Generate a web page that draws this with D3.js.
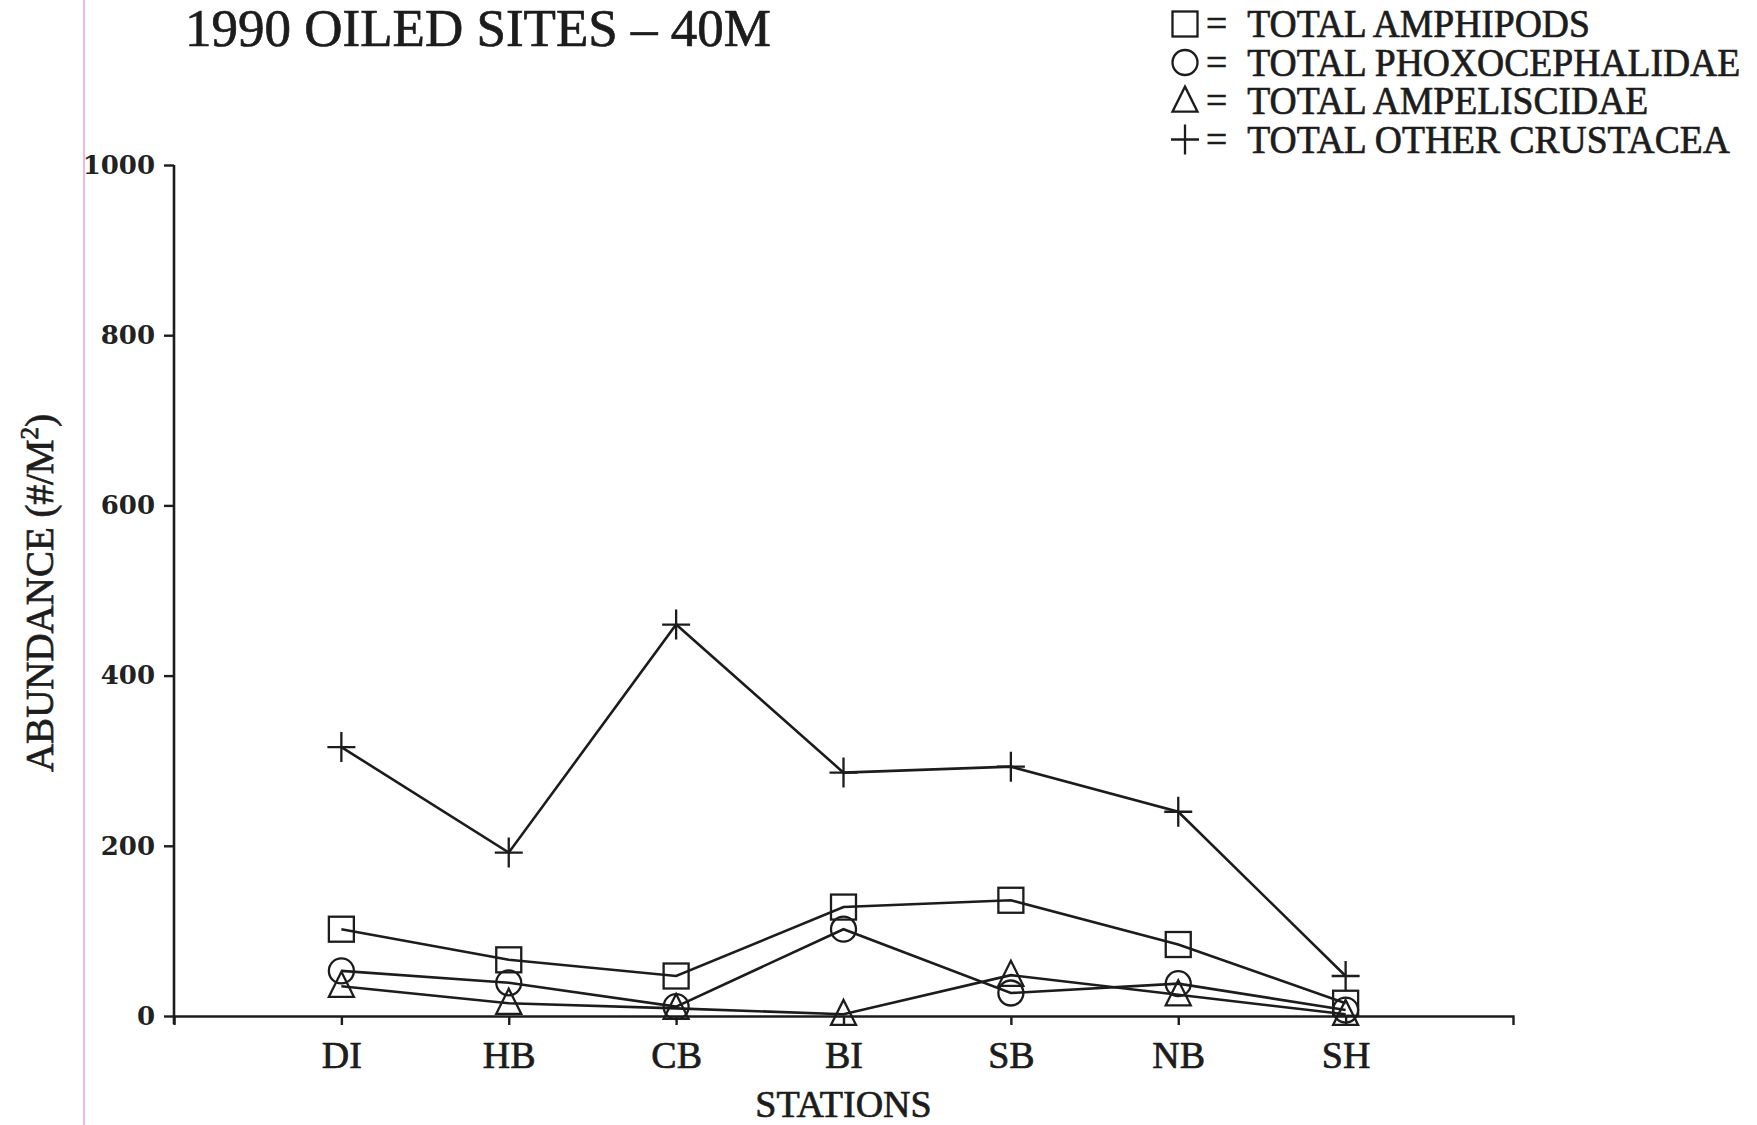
<!DOCTYPE html>
<html lang="en">
<head>
<meta charset="UTF-8">
<title>1990 Oiled Sites - 40M</title>
<style>
  body { margin: 0; background: #fff; }
  svg { display: block; }
  .serif { font-family: "Liberation Serif", "DejaVu Serif", serif; fill: #1c1c1c; stroke: #1c1c1c; stroke-width: 0.7; }
  .axis path, .axis line { stroke: #1c1c1c; stroke-width: 2.4; }
  .yaxis text { font-family: "DejaVu Serif", serif; font-weight: bold; font-size: 26px; fill: #222; }
  .xaxis text { font-family: "Liberation Serif", serif; font-size: 38px; fill: #1c1c1c; stroke: #1c1c1c; stroke-width: 0.7; }
</style>
</head>
<body>
<script src="https://d3js.org/d3.v7.min.js"></script>
<script>
// stations along the x axis
const stations = ["DI", "HB", "CB", "BI", "SB", "NB", "SH"];

// abundance (#/m2)
const amphipods       = [102, 66, 47, 128, 136, 84, 15];
const phoxocephalidae = [53, 39, 11, 102, 27, 38, 7];
const ampeliscidae    = [35, 15, 9, 2, 48, 25, 2];
const otherCrustacea  = [316, 192, 460, 286, 293, 240, 47];

const yTicks = [0, 200, 400, 600, 800, 1000];
const legendLabels = ["TOTAL AMPHIPODS", "TOTAL PHOXOCEPHALIDAE", "TOTAL AMPELISCIDAE", "TOTAL OTHER CRUSTACEA"];
const markers = ["square", "circle", "triangle", "plus"];

const series = [amphipods, phoxocephalidae, ampeliscidae, otherCrustacea];

const width = 1757, height = 1125;

const svg = d3.select("body").append("svg")
    .attr("width", width)
    .attr("height", height);

// scanner streak on the left edge of the page
svg.append("line")
    .attr("x1", 84).attr("x2", 84)
    .attr("y1", 0).attr("y2", height)
    .attr("stroke", "#e6a9e6")
    .attr("stroke-width", 1.6);

const x = d3.scaleLinear().domain([0, stations.length + 1]).range([174, 1513]);
const y = d3.scaleLinear().domain([0, 1000]).range([1016, 165]);

// y axis
const yAxis = svg.append("g")
    .attr("class", "axis yaxis")
    .attr("transform", "translate(174,0)")
    .call(d3.axisLeft(y).tickValues(yTicks).tickSize(10).tickSizeOuter(0).tickPadding(9).tickFormat(d3.format("d")));
yAxis.select(".domain").remove();
svg.append("line")
    .attr("x1", x(0)).attr("x2", x(0))
    .attr("y1", y(1000)).attr("y2", y(0) + 8)
    .attr("stroke", "#1c1c1c").attr("stroke-width", 2.6);

// x axis
svg.append("g")
    .attr("class", "axis xaxis")
    .attr("transform", `translate(0,${y(0)})`)
    .call(d3.axisBottom(x)
        .tickValues(d3.range(1, stations.length + 1))
        .tickSize(9).tickSizeOuter(9).tickPadding(16)
        .tickFormat(i => stations[i - 1]));

// title
svg.append("text")
    .attr("class", "serif")
    .attr("x", 185).attr("y", 46)
    .attr("font-size", 53)
    .attr("stroke-width", 0.9)
    .text("1990 OILED SITES \u2013 40M");

// axis titles
svg.append("text")
    .attr("class", "serif")
    .attr("text-anchor", "middle")
    .attr("transform", "translate(53,593) rotate(-90)")
    .attr("font-size", 39)
    .call(t => {
        t.append("tspan").text("ABUNDANCE (#/M");
        t.append("tspan").attr("font-size", 25).attr("dy", -15).text("2");
        t.append("tspan").attr("dy", 15).text(")");
    });

svg.append("text")
    .attr("class", "serif")
    .attr("text-anchor", "middle")
    .attr("x", x(4)).attr("y", 1117)
    .attr("font-size", 38)
    .text("STATIONS");

// marker drawing
function drawMarker(g, type, cx, cy) {
    const s = 12.5;
    if (type === "square") {
        g.append("rect")
            .attr("x", cx - s).attr("y", cy - s)
            .attr("width", 2 * s).attr("height", 2 * s);
    } else if (type === "circle") {
        g.append("circle").attr("cx", cx).attr("cy", cy).attr("r", s);
    } else if (type === "triangle") {
        g.append("path")
            .attr("d", `M${cx},${cy - s * 1.15}L${cx + s},${cy + s * 0.85}L${cx - s},${cy + s * 0.85}Z`);
    } else {
        g.append("path")
            .attr("d", `M${cx - 14},${cy}H${cx + 14}M${cx},${cy - 15}V${cy + 15}`);
    }
}

const line = d3.line()
    .x((d, i) => x(i + 1))
    .y(d => y(d));

series.forEach((vals, k) => {
    svg.append("path")
        .datum(vals)
        .attr("d", line)
        .attr("fill", "none")
        .attr("stroke", "#1c1c1c")
        .attr("stroke-width", 2.6);
    const g = svg.append("g")
        .attr("fill", "none")
        .attr("stroke", "#1c1c1c")
        .attr("stroke-width", 2.3);
    vals.forEach((v, i) => drawMarker(g, markers[k], x(i + 1), y(v)));
});

// legend: one text per row ("=" plus label)
const legend = svg.append("g");
legendLabels.forEach((lab, k) => {
    const cy = 24 + k * 38.5;
    const g = legend.append("g")
        .attr("fill", "none")
        .attr("stroke", "#1c1c1c")
        .attr("stroke-width", 2.3);
    drawMarker(g, markers[k], 1185, cy);
    const t = legend.append("text")
        .attr("class", "serif")
        .attr("font-size", 40)
        .attr("transform", `translate(1206,${cy + 13}) scale(0.94,1)`);
    t.append("tspan").text("=");
    t.append("tspan").attr("x", 44).text(lab);
});
</script>
</body>
</html>
